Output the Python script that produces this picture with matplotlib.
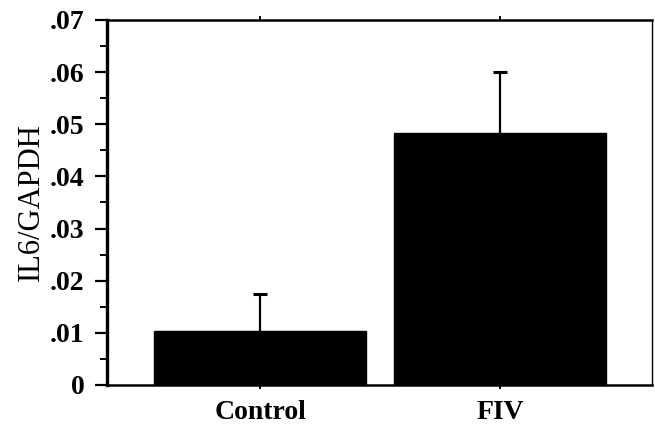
import matplotlib
matplotlib.use("Agg")

import matplotlib.pyplot as plt  # noqa: E402
from matplotlib.ticker import MultipleLocator, FuncFormatter  # noqa: E402

groups = ["Control", "FIV"]
ratio = [0.0103, 0.0484]
ratio_err = [0.0072, 0.0116]

plt.rcParams["font.family"] = ["Liberation Serif", "DejaVu Serif"]

fig = plt.figure(figsize=(6.55, 4.28), dpi=100)
ax = fig.add_axes([0.1634, 0.1005, 0.832, 0.8528])

xs = range(len(groups))
ax.bar(xs, ratio, width=0.885, color="black", edgecolor="black", zorder=2)
_, caps, _ = ax.errorbar(
    xs, ratio, yerr=[[0] * len(ratio), ratio_err], fmt="none",
    ecolor="black", elinewidth=1.6, capsize=5, capthick=2.2, zorder=3,
)
# upper whisker only: hide the cap sitting on the bar top
caps[0].set_visible(False)

ax.set_xlim(-0.64, 1.635)
ax.set_ylim(0, 0.07)

ax.yaxis.set_major_locator(MultipleLocator(0.01))
ax.yaxis.set_minor_locator(MultipleLocator(0.005))
ax.yaxis.set_major_formatter(
    FuncFormatter(lambda v, _: "0" if abs(v) < 1e-9 else f"{v:.2f}".lstrip("0"))
)

ax.set_xticks(list(xs))
ax.set_xticklabels(groups, fontsize=20, fontweight="bold")
for lbl in ax.get_yticklabels():
    lbl.set_fontsize(20)
    lbl.set_fontweight("bold")

ax.tick_params(axis="y", which="major", direction="out", length=9, width=1.6, pad=7)
ax.tick_params(axis="y", which="minor", direction="out", length=5, width=1.4)
ax.tick_params(axis="x", which="major", direction="out", length=3, width=1.4,
               top=True, pad=8)

ax.spines["left"].set_linewidth(2.4)
ax.spines["bottom"].set_linewidth(1.8)
ax.spines["top"].set_linewidth(1.8)
ax.spines["right"].set_linewidth(1.0)

ax.set_ylabel("IL6/GAPDH", fontsize=22, labelpad=3)

fig.savefig("out.png", dpi=100, facecolor="white")
plt.close(fig)
